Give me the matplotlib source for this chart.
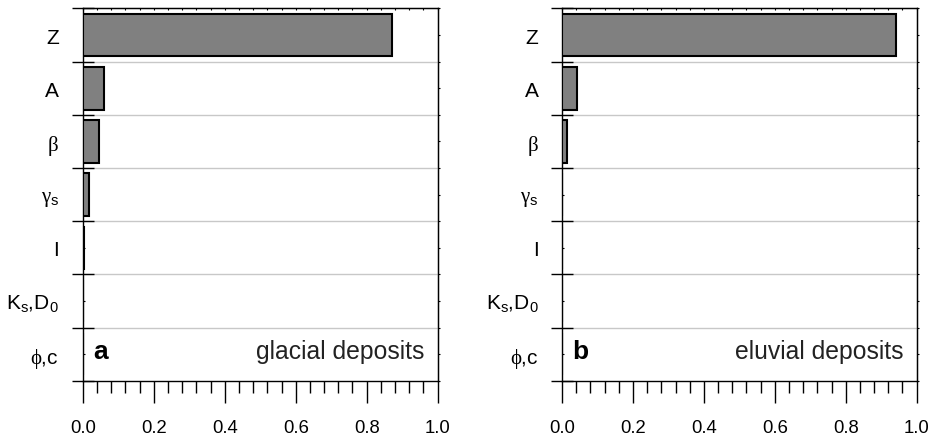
import matplotlib
matplotlib.use('Agg')
import matplotlib.pyplot as plt
import numpy as np

plt.rcParams['font.family'] = ['Liberation Sans', 'DejaVu Sans']
plt.rcParams['mathtext.fontset'] = 'custom'
plt.rcParams['mathtext.rm'] = 'Liberation Serif'
plt.rcParams['mathtext.sf'] = 'Liberation Sans'
plt.rcParams['mathtext.it'] = 'Liberation Sans'

# sensitivity of each parameter
params = ['Z', 'A', r'$\mathrm{\beta}$', r'$\mathrm{\gamma}_\mathsf{s}$', 'I',
          r'K$_\mathsf{s}$,D$_\mathsf{0}$', r'$\mathrm{\phi}$,c']
glacial = [0.872, 0.060, 0.046, 0.019, 0.004, 0.0, 0.0]
eluvial = [0.942, 0.042, 0.015, 0.0, 0.0, 0.0, 0.0]
panels = [('a', 'glacial deposits', glacial), ('b', 'eluvial deposits', eluvial)]

fig = plt.figure(figsize=(9.37, 4.39), dpi=100)
rects = [[0.0883, 0.1305, 0.3788, 0.8479], [0.5998, 0.1305, 0.3785, 0.8479]]

pos = np.arange(len(params))
bounds = np.arange(len(params) + 1) - 0.5

for rect, (tag, name, vals) in zip(rects, panels):
    ax = fig.add_axes(rect)
    ax.barh(pos, vals, height=0.8, color='#808080', edgecolor='black', linewidth=1.5, zorder=3)
    ax.set_xlim(0, 1)
    ax.set_ylim(bounds[-1], bounds[0])

    for b in bounds[1:-1]:
        ax.axhline(b, color='#c8c8c8', lw=1.0, zorder=1)

    # boundaries as major ticks, names on minor ticks at the centres
    ax.set_yticks(bounds)
    ax.set_yticklabels([])
    ax.set_yticks(pos, minor=True)
    ax.set_yticklabels(params, minor=True, fontsize=15)
    ax.tick_params(axis='y', which='major', direction='inout', length=16, width=1.0)
    ax.tick_params(axis='y', which='minor', direction='in', length=1.5, width=0.8, pad=17)

    ax.set_xticks(np.arange(0, 1.01, 0.2))
    ax.set_xticklabels(['%.1f' % v for v in np.arange(0, 1.01, 0.2)], fontsize=13.3)
    ax.set_xticks(np.arange(0, 1.001, 0.04), minor=True)
    ax.tick_params(axis='x', which='major', direction='out', length=15.6, width=1.0, pad=12)
    ax.tick_params(axis='x', which='minor', direction='out', length=8.4, width=1.0)

    for s in ax.spines.values():
        s.set_linewidth(1.0)

    top = ax.secondary_xaxis('top')
    top.set_xticks(np.arange(0, 1.001, 0.04))
    top.set_xticklabels([])
    top.tick_params(direction='in', length=1.5, width=0.8)

    right = ax.secondary_yaxis('right')
    right.set_yticks(np.concatenate([bounds, pos]))
    right.set_yticklabels([])
    right.tick_params(direction='out', length=1.5, width=0.8)

    ax.text(0.03, 0.061, tag, transform=ax.transAxes, fontsize=19, fontweight='bold',
            ha='left', va='baseline')
    ax.text(0.963, 0.061, name, transform=ax.transAxes, fontsize=17.8,
            ha='right', va='baseline', color='#222222')

fig.savefig('out.png', dpi=100)
